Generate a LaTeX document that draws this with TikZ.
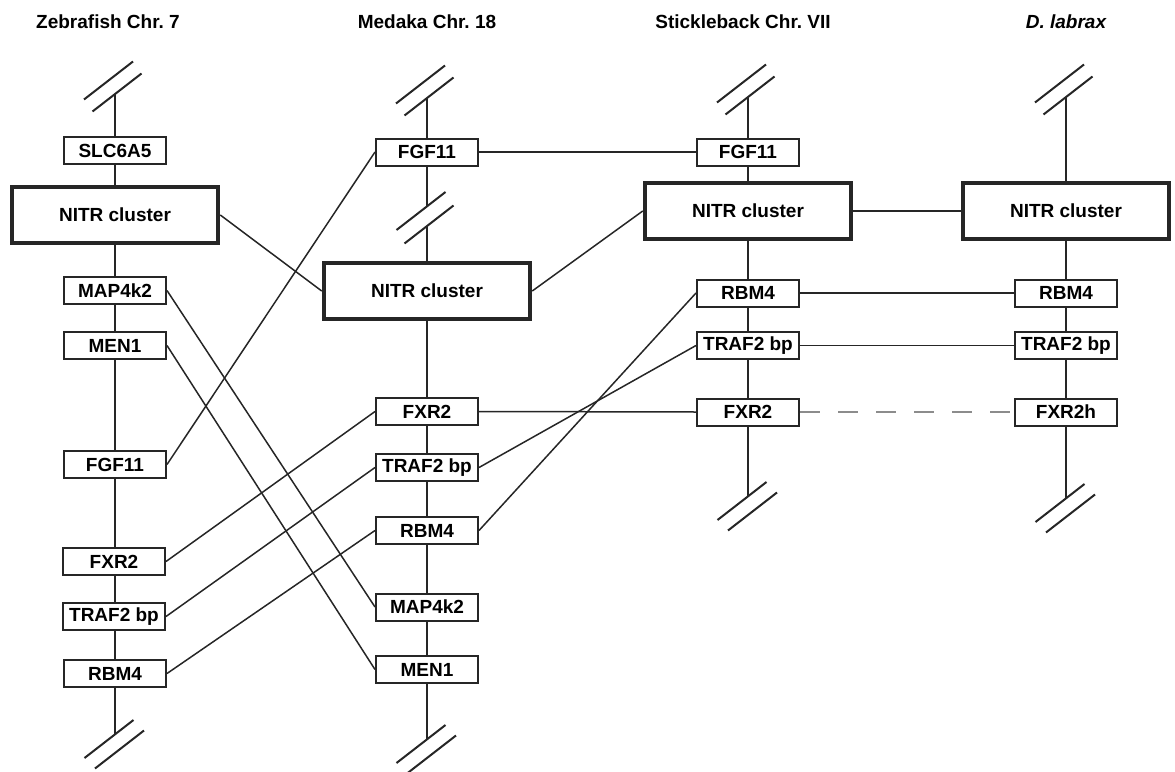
\documentclass[tikz,border=0pt]{standalone}
\usepackage{fontspec}
\setmainfont{Liberation Sans}
\frenchspacing
\newcommand\brkTop[1]{%
  \draw[brk] (#1) ++(-22.5,17.5) -- ++(49,-38);
  \draw[brk] (#1) ++(-31,5.5) -- ++(49,-38);}
\newcommand\brkBot[1]{%
  \draw[brk] (#1) ++(-30.5,24) -- ++(49,-38);
  \draw[brk] (#1) ++(-20,34.5) -- ++(49,-38);}
\begin{document}
\begin{tikzpicture}[x=1pt,y=-1pt,
  gene/.style={draw=black!85, line width=2pt, minimum width=102pt, minimum height=27pt,
    inner sep=0pt, font=\fontsize{19}{22}\selectfont\bfseries, fill=white},
  nitr/.style={gene, line width=4.5pt, minimum width=206pt, minimum height=56pt},
  chrom/.style={line width=1.8pt, draw=black!85},
  link/.style={line width=1.5pt, draw=black!85},
  brk/.style={line width=2pt, draw=black!85},
  dlink/.style={line width=2pt, draw=black!45, dash pattern=on 20pt off 18pt},
  ttl/.style={font=\fontsize{19}{22}\selectfont\bfseries, inner sep=0pt}
]
\useasboundingbox (0,0) rectangle (1175,771);

% titles
\node[ttl] (t1) at (108,22) {Zebrafish Chr.\ 7};
\node[ttl] (t2) at (427,22) {Medaka Chr.\ 18};
\node[ttl] (t3) at (743,22) {Stickleback Chr.\ VII};
\node[ttl] (t4) at (1066,22) {\itshape D. labrax};

% Zebrafish
\coordinate (zTop) at (115,94);
\coordinate (zBot) at (115,734);
\node[gene] (zSLC) at (115,150.5) {SLC6A5};
\node[nitr] (zNITR) at (115,215) {NITR cluster};
\node[gene] (zMAP) at (115,290.5) {MAP4k2};
\node[gene] (zMEN) at (115,345.5) {MEN1};
\node[gene] (zFGF) at (115,464.5) {FGF11};
\node[gene] (zFXR) at (114,561.5) {FXR2};
\node[gene] (zTRAF) at (114,616.5) {TRAF2 bp};
\node[gene] (zRBM) at (115,673.5) {RBM4};

% Medaka
\coordinate (mTop) at (427,98);
\coordinate (mMid1) at (427,206);
\coordinate (mMid2) at (427,226);
\coordinate (mBot) at (427,739);
\node[gene] (mFGF) at (427,152) {FGF11};
\node[nitr] (mNITR) at (427,291) {NITR cluster};
\node[gene] (mFXR) at (427,411.5) {FXR2};
\node[gene] (mTRAF) at (427,467.5) {TRAF2 bp};
\node[gene] (mRBM) at (427,530.5) {RBM4};
\node[gene] (mMAP) at (427,607) {MAP4k2};
\node[gene] (mMEN) at (427,669.5) {MEN1};

% Stickleback
\coordinate (sTop) at (748,97);
\coordinate (sBot) at (748,496);
\node[gene] (sFGF) at (748,152) {FGF11};
\node[nitr] (sNITR) at (748,211) {NITR cluster};
\node[gene] (sRBM) at (748,293) {RBM4};
\node[gene] (sTRAF) at (748,345.5) {TRAF2 bp};
\node[gene] (sFXR) at (748,412) {FXR2};

% D. labrax
\coordinate (lTop) at (1066,97);
\coordinate (lBot) at (1066,498);
\node[nitr] (lNITR) at (1066,211) {NITR cluster};
\node[gene] (lRBM) at (1066,293) {RBM4};
\node[gene] (lTRAF) at (1066,345.5) {TRAF2 bp};
\node[gene] (lFXR) at (1066,412) {FXR2h};

% chromosome lines
\draw[chrom] (zTop) -- (zSLC) (zSLC) -- (zNITR) (zNITR) -- (zMAP) (zMAP) -- (zMEN)
  (zMEN) -- (zFGF) (zFGF) -- (zFXR.north -| zFGF) (zFXR.south -| zFGF) -- (zTRAF.north -| zFGF)
  (zTRAF.south -| zFGF) -- (zRBM) (zRBM) -- (zBot);
\draw[chrom] (mTop) -- (mFGF) (mFGF) -- (mMid1) (mMid2) -- (mNITR) (mNITR) -- (mFXR)
  (mFXR) -- (mTRAF) (mTRAF) -- (mRBM) (mRBM) -- (mMAP) (mMAP) -- (mMEN) (mMEN) -- (mBot);
\draw[chrom] (sTop) -- (sFGF) (sFGF) -- (sNITR) (sNITR) -- (sRBM) (sRBM) -- (sTRAF)
  (sTRAF) -- (sFXR) (sFXR) -- (sBot);
\draw[chrom] (lTop) -- (lNITR) (lNITR) -- (lRBM) (lRBM) -- (lTRAF)
  (lTRAF) -- (lFXR) (lFXR) -- (lBot);

% breaks
\brkTop{zTop}
\brkBot{zBot}
\brkTop{mTop}
\draw[brk] (mMid1) ++(-30.5,24) -- ++(49,-38);
\draw[brk] (mMid2) ++(-22.5,17.5) -- ++(49,-38);
\brkBot{mBot}
\brkTop{sTop}
\brkBot{sBot}
\brkTop{lTop}
\brkBot{lBot}

% links
\draw[link] (zNITR.east) -- (mNITR.west);
\draw[link] (mNITR.east) -- (sNITR.west);
\draw[link] (sNITR.east) -- (lNITR.west);
\draw[link] (zFGF.east) -- (mFGF.west);
\draw[link] (mFGF.east) -- (sFGF.west);
\draw[link] (zMAP.east) -- (mMAP.west);
\draw[link] (zMEN.east) -- (mMEN.west);
\draw[link] (zFXR.east) -- (mFXR.west);
\draw[link] (zTRAF.east) -- (mTRAF.west);
\draw[link] (zRBM.east) -- (mRBM.west);
\draw[link] (mTRAF.east) -- (sTRAF.west);
\draw[link] (mRBM.east) -- (sRBM.west);
\draw[link] (mFXR.east) -- (sFXR.west);
\draw[link] (sRBM.east) -- (lRBM.west);
\draw[link] (sTRAF.east) -- (lTRAF.west);
\draw[dlink] (sFXR.east) -- (lFXR.west);
\end{tikzpicture}
\end{document}
